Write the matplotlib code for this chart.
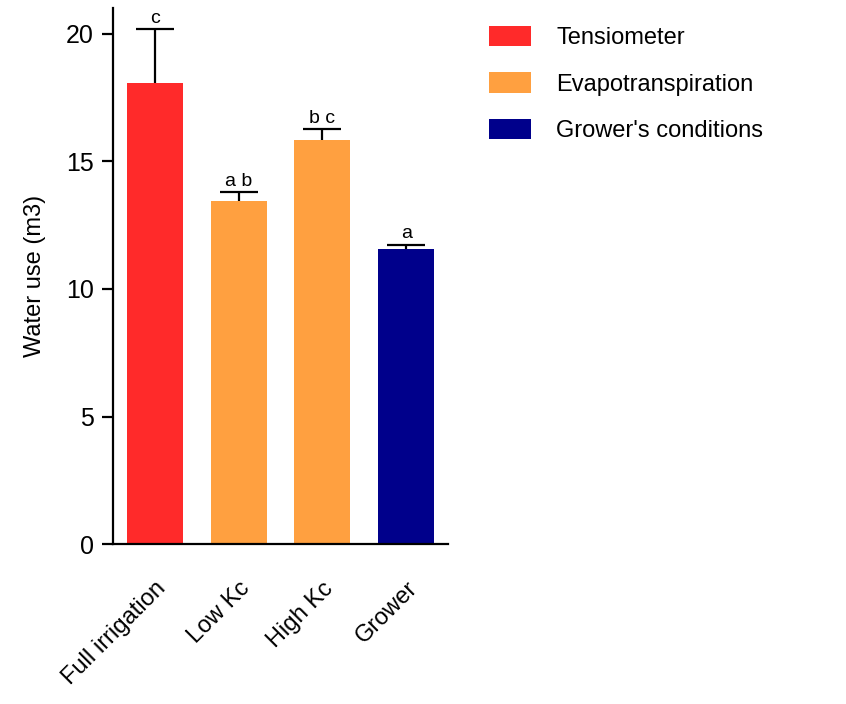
import matplotlib
matplotlib.use("Agg")
import matplotlib.pyplot as plt
from matplotlib.patches import Patch

plt.rcParams['font.family'] = ['Liberation Sans', 'DejaVu Sans']

# 各處理的用水量 (m3) 與標準誤
treatments = ["Full irrigation", "Low Kc", "High Kc", "Grower"]
water_use = [18.05, 13.44, 15.82, 11.57]
sem = [2.12, 0.35, 0.43, 0.16]
letters = ["c", "a b", "b c", "a"]
groups = ["Tensiometer", "Evapotranspiration", "Evapotranspiration", "Grower's conditions"]

group_names = ["Tensiometer", "Evapotranspiration", "Grower's conditions"]
group_colors = {"Tensiometer": "#FF2A2A",
                "Evapotranspiration": "#FFA040",
                "Grower's conditions": "#00008B"}

fig = plt.figure(figsize=(8.46, 7.04), dpi=100)
ax = fig.add_axes([0.1336, 0.2268, 0.396, 0.7618])

x = range(len(treatments))
colors = [group_colors[g] for g in groups]
ax.bar(x, water_use, width=0.67, color=colors, zorder=2)
# 誤差線畫在長條後面，下半段被長條遮住
ax.errorbar(x, water_use, yerr=sem, fmt='none',
            ecolor='black', elinewidth=1.6, capsize=14, capthick=1.6, zorder=1)

for xi, m, e, lab in zip(x, water_use, sem, letters):
    ax.text(xi, m + e + 0.1, lab, ha='center', va='bottom', fontsize=14)

ax.set_xlim(-0.5, 3.5)
ax.set_ylim(0, 21)
ax.set_yticks([0, 5, 10, 15, 20])
ax.set_xticks(list(x))
ax.set_xticklabels(treatments, rotation=45, ha='right', rotation_mode='anchor')
ax.tick_params(axis='x', length=0, pad=24, labelsize=17)
ax.tick_params(axis='y', length=8, width=1.6, labelsize=18, pad=6)
ax.set_ylabel("Water use (m3)", fontsize=17, labelpad=14)

for side in ['top', 'right']:
    ax.spines[side].set_visible(False)
for side in ['left', 'bottom']:
    ax.spines[side].set_linewidth(1.6)

handles = [Patch(facecolor=group_colors[g], edgecolor='none') for g in group_names]
fig.legend(handles, group_names, loc='upper left', bbox_to_anchor=(0.578, 0.963),
           frameon=False, fontsize=17, handlelength=1.8, handleheight=0.95,
           handletextpad=1.05, labelspacing=0.98, borderpad=0, borderaxespad=0)

fig.savefig("out.png", dpi=100)
